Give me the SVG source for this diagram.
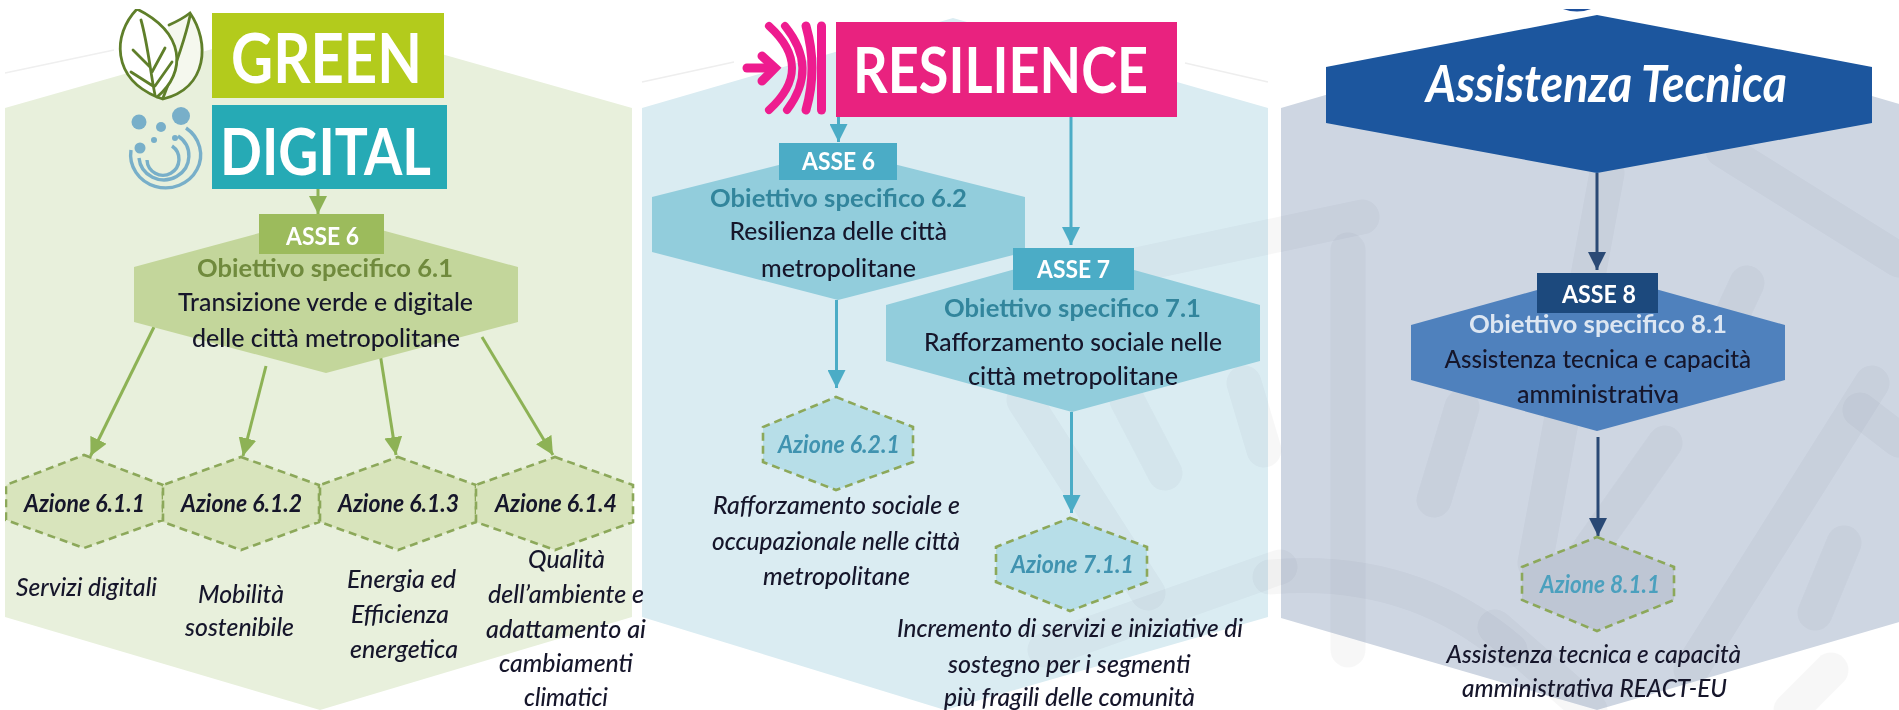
<svg xmlns="http://www.w3.org/2000/svg" width="1899" height="710" viewBox="0 0 1899 710">
<style>
text{font-family:Lato,"Liberation Sans",sans-serif}
.t{font-size:25px;font-weight:500;fill:#14142a}
.ti{font-size:25px;font-style:italic;font-weight:500;fill:#14142a}
.ob{font-size:25px;font-weight:700}
.az{font-size:25px;font-style:italic;font-weight:700;fill:#14142a}
.as{font-size:24px;font-weight:700;fill:#fff}
.dash{stroke:#8CA85A;stroke-width:2.6;stroke-dasharray:8 5}
.wm{fill:none;stroke:#1a2a4a;stroke-opacity:.032;stroke-width:35;stroke-linecap:round}
.conn{fill:none;stroke-width:3}
.logo{font-weight:700;fill:#fff}
</style>
<defs>
<filter id="soft" x="0" y="0" width="100%" height="100%"><feGaussianBlur stdDeviation="0.5"/></filter>
<marker id="ag" markerUnits="userSpaceOnUse" markerWidth="18" markerHeight="18" refX="18" refY="9" orient="auto"><path d="M0,0L18,9L0,18Z" fill="#8DB255"/></marker>
<marker id="ab" markerUnits="userSpaceOnUse" markerWidth="18" markerHeight="18" refX="18" refY="9" orient="auto"><path d="M0,0L18,9L0,18Z" fill="#4BACC6"/></marker>
<marker id="an" markerUnits="userSpaceOnUse" markerWidth="18" markerHeight="18" refX="18" refY="9" orient="auto"><path d="M0,0L18,9L0,18Z" fill="#2A4A74"/></marker>
</defs>
<rect width="1899" height="710" fill="#fff"/>
<g filter="url(#soft)">
<g id="panel-green">
<path d="M5,73L114,50" stroke="#efefef" stroke-width="1.5" fill="none"/>
<polygon points="318,19 632,108 632,617 320,710 5,617 5,108" fill="#E8F0DC"/>
</g>
<g id="panel-resilience">
<path d="M642,82L734,62M1185,63L1268,82" stroke="#eeeeee" stroke-width="1.5" fill="none"/>
<polygon points="953,18 1268,108 1268,617 945,710 642,617 642,108" fill="#DAECF2"/>
</g>
<g id="panel-assistenza">
<polygon points="1597,16 1913,108 1913,618 1597,710 1281,618 1281,108" fill="#CED6E2"/>
</g>
<g id="watermark">
<path class="wm" d="M1136,265L1362,217"/>
<path class="wm" d="M1348,250V650"/>
<path class="wm" d="M1723,150L1899,260"/>
<path class="wm" d="M1607,173L1535,563"/>
<path class="wm" d="M1462,407L1434,500"/>
<path class="wm" d="M1665,443L1575,570"/>
<path class="wm" d="M1872,383L1691,670"/>
<path class="wm" d="M1844,543L1815,613"/>
<path class="wm" d="M1270,577Q1410,565 1510,650"/>
<path class="wm" d="M1860,410L1899,440"/>
<path class="wm" d="M1495,627L1590,710"/>
<path class="wm" d="M1831,670L1791,710"/>
<path class="wm" d="M1747,283L1711,360"/>
<path class="wm" d="M1024,400L1148,593"/>
<path class="wm" d="M1127,400L1165,473"/>
<path class="wm" d="M1244,383L1264,450"/>
<path class="wm" d="M1045,650L1280,567"/>
</g>

<g id="connectors" class="conn">
<path d="M318,189V214" stroke="#8DB255" marker-end="url(#ag)"/>
<path d="M154,327L90.5,456" stroke="#8DB255" marker-end="url(#ag)"/>
<path d="M266,366L243,456" stroke="#8DB255" marker-end="url(#ag)"/>
<path d="M380,353L396,455" stroke="#8DB255" marker-end="url(#ag)"/>
<path d="M482,337L553,455" stroke="#8DB255" marker-end="url(#ag)"/>
<path d="M838.5,117V142" stroke="#4BACC6" marker-end="url(#ab)"/>
<path d="M1071,117V245" stroke="#4BACC6" marker-end="url(#ab)"/>
<path d="M836.5,300V388" stroke="#4BACC6" marker-end="url(#ab)"/>
<path d="M1071.5,412V513" stroke="#4BACC6" marker-end="url(#ab)"/>
<path d="M1597,173V270" stroke="#2A4A74" marker-end="url(#an)"/>
<path d="M1598,437V536" stroke="#2A4A74" marker-end="url(#an)"/>
</g>

<g id="logo-green">
<g fill="none" stroke="#5F7F2A" stroke-width="2.8" stroke-linecap="round">
<path d="M169,25C178,21 185,17 190,13C210,42 208,88 163,99L157,97" fill="#F5F8EE"/>
<path d="M190,16C185,40 172,75 163,98"/>
<path d="M137,9C112,35 112,78 157,97C187,72 185,33 137,9Z" fill="#fff"/>
<path d="M141,20C148,45 150,70 155,95M133,50L150,67M165,48L152,72M131,72L153,86M172,62L155,86"/>
</g>
<rect x="212" y="13" width="232" height="85" fill="#B3CB1E"/>
<text class="logo" x="231" y="83" font-size="69" textLength="191" lengthAdjust="spacingAndGlyphs">GREEN</text>
</g>
<g id="logo-digital">
<g fill="#78AFC9">
<circle cx="139" cy="122" r="7.5"/><circle cx="181" cy="116" r="9"/><circle cx="161" cy="127" r="5"/><circle cx="140" cy="148" r="5.5"/><circle cx="154" cy="140" r="3"/><circle cx="175" cy="138" r="3"/>
</g>
<g fill="none" stroke="#78AFC9" stroke-width="3.4">
<path d="M186,128A35 33 0 1 1 131,150"/><path d="M178,136A25 24 0 1 1 139,158"/><path d="M172,146A16 16 0 1 1 147,160"/>
</g>
<rect x="212" y="105" width="235" height="84" fill="#27AAB5"/>
<text class="logo" x="220" y="175" font-size="65" textLength="211" lengthAdjust="spacingAndGlyphs">DIGITAL</text>
</g>

<g id="asse-6-green">
<polygon points="326,215 518,267 518,322 326,373 134,322 134,267" fill="#C3D69B"/>
<rect x="259" y="214" width="125" height="40" fill="#9CBB5C"/>
<text class="as" x="286" y="245" textLength="73" lengthAdjust="spacingAndGlyphs">ASSE 6</text>
<text class="ob" fill="#6F8A3C" x="197" y="277" textLength="256" lengthAdjust="spacingAndGlyphs">Obiettivo specifico 6.1</text>
<text class="t" x="178" y="311" textLength="295" lengthAdjust="spacingAndGlyphs">Transizione verde e digitale</text>
<text class="t" x="192" y="347" textLength="268" lengthAdjust="spacingAndGlyphs">delle città metropolitane</text>
</g>
<g id="azione-611">
<polygon class="dash" points="84,455 163,485 163,520 84,548 6,520 6,485" fill="#D8E4BC"/>
<text class="az" x="24" y="512" textLength="121" lengthAdjust="spacingAndGlyphs">Azione 6.1.1</text>
<text class="ti" x="16" y="596" textLength="141" lengthAdjust="spacingAndGlyphs">Servizi digitali</text>
</g>
<g id="azione-612">
<polygon class="dash" points="241,457 319,485 319,522 241,550 163,522 163,485" fill="#D8E4BC"/>
<text class="az" x="181" y="512" textLength="121" lengthAdjust="spacingAndGlyphs">Azione 6.1.2</text>
<text class="ti" x="198" y="603" textLength="86" lengthAdjust="spacingAndGlyphs">Mobilità</text>
<text class="ti" x="185" y="636" textLength="109" lengthAdjust="spacingAndGlyphs">sostenibile</text>
</g>
<g id="azione-613">
<polygon class="dash" points="398,457 476,485 476,522 398,550 320,522 320,485" fill="#D8E4BC"/>
<text class="az" x="338" y="512" textLength="121" lengthAdjust="spacingAndGlyphs">Azione 6.1.3</text>
<text class="ti" x="347" y="588" textLength="109" lengthAdjust="spacingAndGlyphs">Energia ed</text>
<text class="ti" x="351" y="623" textLength="98" lengthAdjust="spacingAndGlyphs">Efficienza</text>
<text class="ti" x="350" y="658" textLength="108" lengthAdjust="spacingAndGlyphs">energetica</text>
</g>
<g id="azione-614">
<polygon class="dash" points="555,457 633,485 633,522 555,550 476,522 476,485" fill="#D8E4BC"/>
<text class="az" x="495" y="512" textLength="122" lengthAdjust="spacingAndGlyphs">Azione 6.1.4</text>
<text class="ti" x="528" y="568" textLength="77" lengthAdjust="spacingAndGlyphs">Qualità</text>
<text class="ti" x="488" y="603" textLength="156" lengthAdjust="spacingAndGlyphs">dell’ambiente e</text>
<text class="ti" x="486" y="638" textLength="160" lengthAdjust="spacingAndGlyphs">adattamento ai</text>
<text class="ti" x="499" y="672" textLength="134" lengthAdjust="spacingAndGlyphs">cambiamenti</text>
<text class="ti" x="524" y="706" textLength="84" lengthAdjust="spacingAndGlyphs">climatici</text>
</g>

<g id="logo-resilience">
<g fill="none" stroke="#EE1F8F" stroke-linecap="round">
<path d="M747,68H772" stroke-width="9"/>
<path d="M762,56L775,68L762,81" stroke-width="9"/>
<path d="M769,26Q815,68 769,110" stroke-width="8"/>
<path d="M785,26Q819,68 787,110" stroke-width="8"/>
<path d="M806,26Q818,68 806,110" stroke-width="9"/>
<path d="M821.5,26V110" stroke-width="9"/>
</g>
<rect x="836" y="22" width="341" height="95" fill="#E9227F"/>
<text class="logo" x="853" y="93" font-size="64" textLength="295" lengthAdjust="spacingAndGlyphs">RESILIENCE</text>
</g>
<g id="asse-6-resilience">
<polygon points="838,150 1025,197 1025,252 838,300 652,252 652,197" fill="#92CDDC"/>
<rect x="779" y="143" width="118" height="37" fill="#4BACC6"/>
<text class="as" x="802" y="170" textLength="73" lengthAdjust="spacingAndGlyphs">ASSE 6</text>
<text class="ob" fill="#31859C" x="710" y="207" textLength="257" lengthAdjust="spacingAndGlyphs">Obiettivo specifico 6.2</text>
<text class="t" x="729.5" y="240" textLength="217.5" lengthAdjust="spacingAndGlyphs">Resilienza delle città</text>
<text class="t" x="761" y="277" textLength="155" lengthAdjust="spacingAndGlyphs">metropolitane</text>
</g>
<g id="asse-7">
<polygon points="1073,253 1260,305 1260,361 1072,412 886,361 886,305" fill="#92CDDC"/>
<rect x="1013" y="248" width="121" height="42" fill="#4BACC6"/>
<text class="as" x="1037" y="278" textLength="73" lengthAdjust="spacingAndGlyphs">ASSE 7</text>
<text class="ob" fill="#31859C" x="944" y="317" textLength="257" lengthAdjust="spacingAndGlyphs">Obiettivo specifico 7.1</text>
<text class="t" x="924" y="351" textLength="298" lengthAdjust="spacingAndGlyphs">Rafforzamento sociale nelle</text>
<text class="t" x="968" y="385" textLength="210" lengthAdjust="spacingAndGlyphs">città metropolitane</text>
</g>
<g id="azione-621">
<polygon class="dash" points="836,397 913,427 913,462 836,490 763,462 763,427" fill="#B7DEE8"/>
<text class="az" style="fill:#3F93B0" x="778" y="453" textLength="122" lengthAdjust="spacingAndGlyphs">Azione 6.2.1</text>
<text class="ti" x="713" y="514" textLength="247" lengthAdjust="spacingAndGlyphs">Rafforzamento sociale e</text>
<text class="ti" x="712" y="550" textLength="248" lengthAdjust="spacingAndGlyphs">occupazionale nelle città</text>
<text class="ti" x="763" y="585" textLength="147" lengthAdjust="spacingAndGlyphs">metropolitane</text>
</g>
<g id="azione-711">
<polygon class="dash" points="1070,518 1147,547 1147,582 1070,611 996,582 996,547" fill="#B7DEE8"/>
<text class="az" style="fill:#3F93B0" x="1011" y="573" textLength="123" lengthAdjust="spacingAndGlyphs">Azione 7.1.1</text>
<text class="ti" x="897" y="637" textLength="346" lengthAdjust="spacingAndGlyphs">Incremento di servizi e iniziative di</text>
<text class="ti" x="948" y="673" textLength="242.500" lengthAdjust="spacingAndGlyphs">sostegno per i segmenti</text>
<text class="ti" x="944" y="706" textLength="251" lengthAdjust="spacingAndGlyphs">più fragili delle comunità</text>
</g>

<g id="assistenza-tecnica">
<path d="M1563,9Q1577,14 1591,9Z" fill="#1B4F9C"/>
<polygon points="1597,15 1872,67 1872,123 1597,173 1326,123 1326,67" fill="#1B569E"/>
<text x="1426" y="102" font-size="52" font-style="italic" font-weight="700" fill="#fff" textLength="361" lengthAdjust="spacingAndGlyphs">Assistenza Tecnica</text>
</g>
<g id="asse-8">
<polygon points="1598,273 1785,325 1785,380 1597,431 1411,380 1411,325" fill="#4F81BD"/>
<rect x="1537" y="273" width="121" height="40" fill="#1F497D"/>
<text class="as" x="1562" y="303" textLength="74" lengthAdjust="spacingAndGlyphs">ASSE 8</text>
<text class="ob" fill="#DCE6F2" x="1469" y="333" textLength="258" lengthAdjust="spacingAndGlyphs">Obiettivo specifico 8.1</text>
<text class="t" x="1444.5" y="368" textLength="306.500" lengthAdjust="spacingAndGlyphs">Assistenza tecnica e capacità</text>
<text class="t" x="1517" y="403" textLength="162" lengthAdjust="spacingAndGlyphs">amministrativa</text>
</g>
<g id="azione-811">
<polygon class="dash" points="1597,537 1674,567 1674,600 1597,631 1522,600 1522,567" fill="#BEC6D4"/>
<text class="az" style="fill:#4BA0BE" x="1540" y="593" textLength="120" lengthAdjust="spacingAndGlyphs">Azione 8.1.1</text>
<text class="ti" x="1446.5" y="663" textLength="294.500" lengthAdjust="spacingAndGlyphs">Assistenza tecnica e capacità</text>
<text class="ti" x="1462" y="697" textLength="265" lengthAdjust="spacingAndGlyphs">amministrativa REACT-EU</text>
</g>
</g>
</svg>
